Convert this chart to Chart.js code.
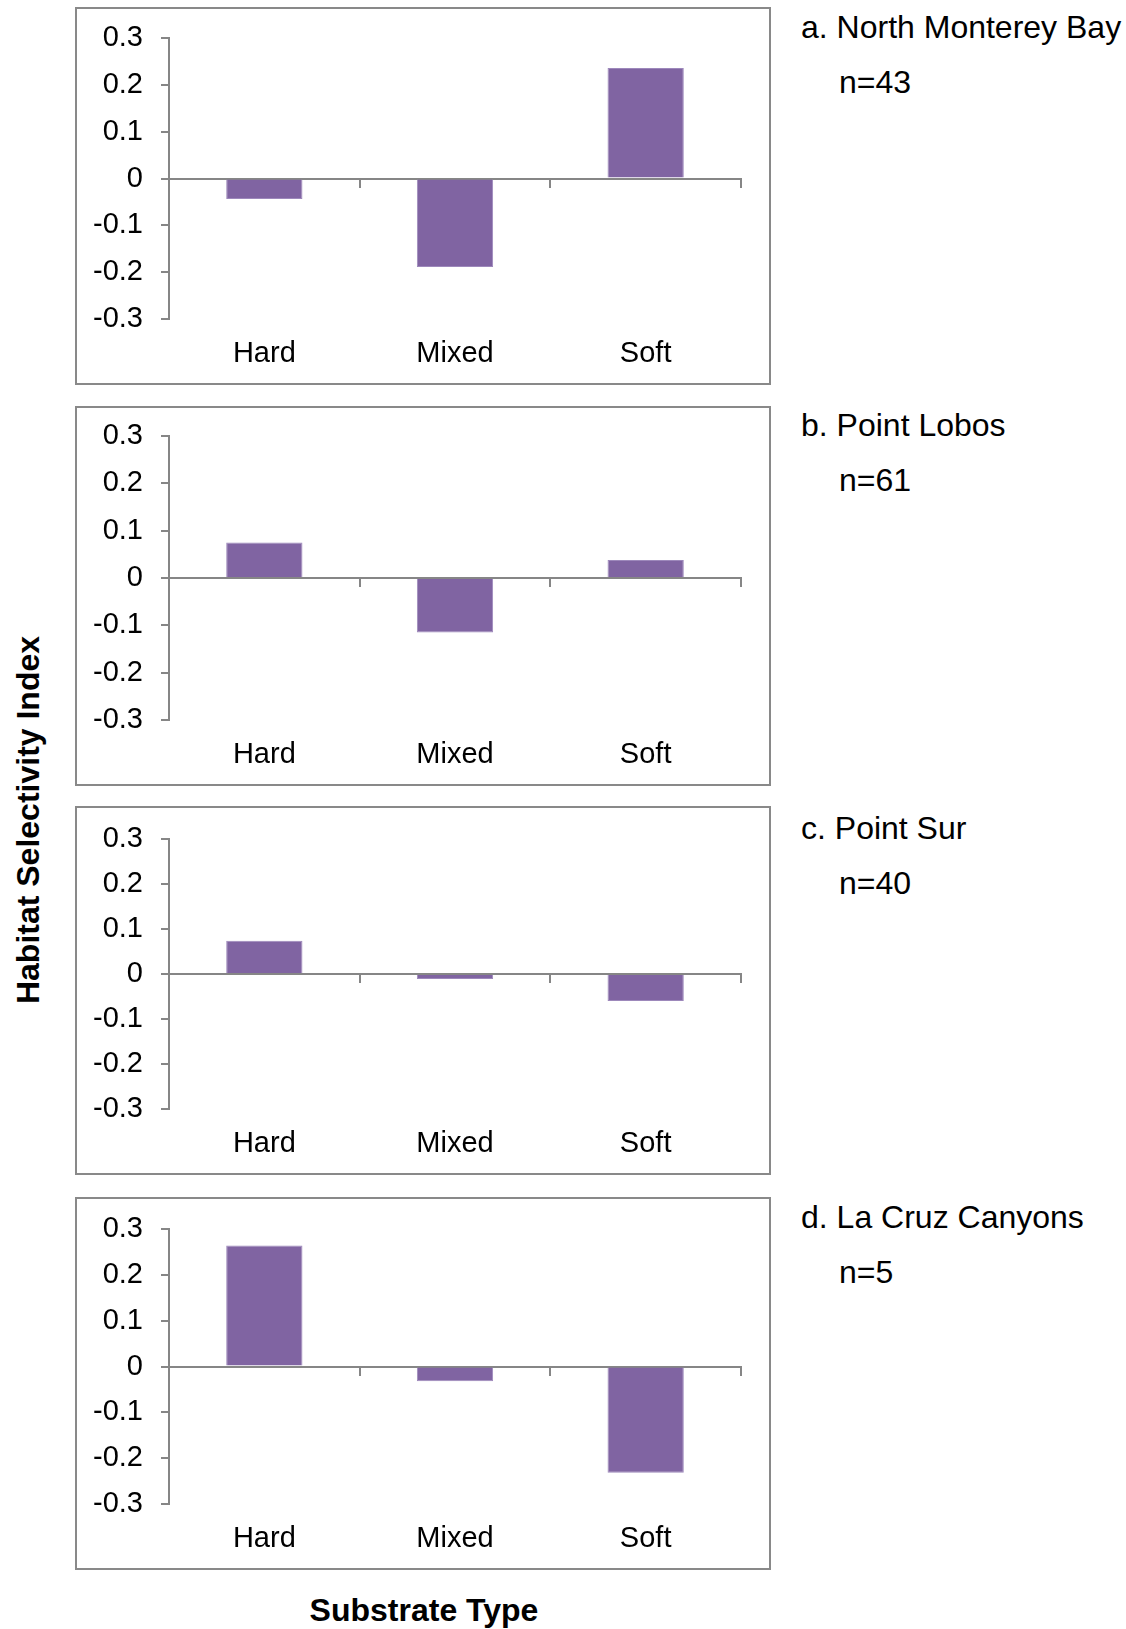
<!DOCTYPE html>
<html>
<head>
<meta charset="utf-8">
<script src="https://cdn.jsdelivr.net/npm/chart.js@4.4.1/dist/chart.umd.min.js"></script>
<style>
    body {
        margin: 0;
        background: #ffffff;
        font-family: "Liberation Sans", Arial, sans-serif;
        color: #000000;
    }
    #page {
        position: relative;
        width: 1126px;
        height: 1629px;
        overflow: hidden;
    }
    .panel {
        position: absolute;
        left: 75px;
        width: 696px;
        border: 2px solid #898989;
        box-sizing: border-box;
    }
    .panel canvas {
        display: block;
    }
    .site, .count {
        position: absolute;
        font-size: 32px;
        line-height: 32px;
        height: 32px;
        white-space: nowrap;
    }
    .axisTitle {
        position: absolute;
        font-size: 32px;
        font-weight: bold;
        white-space: nowrap;
        transform: translate(-50%, -50%);
    }
</style>
</head>
<body>
<div id="page"></div>

<script>
"use strict";

// Chart values
const categories = ["Hard", "Mixed", "Soft"];
const northMontereyBay = [-0.044, -0.189, 0.236];
const pointLobos = [0.075, -0.115, 0.038];
const pointSur = [0.074, -0.011, -0.060];
const laCruzCanyons = [0.264, -0.032, -0.232];

const siteNames = ["a. North Monterey Bay", "b. Point Lobos", "c. Point Sur", "d. La Cruz Canyons"];
const sampleSizes = [43, 61, 40, 5];

// y axis range and step (tick labels -0.3 ... 0.3)
const yMin = -0.3;
const yMax = 0.3;
const yStep = 0.1;

// Layout of the four boxes
const panelTops = [7, 406, 806, 1197];
const panelHeights = [378, 380, 369, 373];
const plotTopPad = [29, 28, 31, 30];
const siteLabelY = [27, 425, 828, 1217];

const barColor = "#8064a2";
const barEdge = "#9d88bb";
const axisColor = "#868686";

Chart.defaults.font.family = "'Liberation Sans', Arial, sans-serif";
Chart.defaults.color = "#000000";

let page = document.getElementById("page");
let allValues = [northMontereyBay, pointLobos, pointSur, laCruzCanyons];

for (let i = 0; i < allValues.length; i++) {

    let box = document.createElement("div");
    box.className = "panel";
    box.style.top = panelTops[i] + "px";
    box.style.height = panelHeights[i] + "px";

    let canvas = document.createElement("canvas");
    canvas.width = 692;
    canvas.height = panelHeights[i] - 4;
    box.appendChild(canvas);
    page.appendChild(box);

    new Chart(canvas, {
        "type": "bar",
        "data": {
            "labels": categories,
            "datasets": [{
                "data": allValues[i],
                "xAxisID": "x",
                "yAxisID": "y",
                "backgroundColor": barColor,
                "borderColor": barEdge,
                "borderWidth": 1,
                "barPercentage": 0.4,
                "categoryPercentage": 1.0
            }]
        },
        "options": {
            responsive: false,
            animation: false,
            events: [],
            layout: {
                padding: { top: plotTopPad[i], right: 28, left: 0, bottom: 0 }
            },
            plugins: {
                legend: { display: false },
                tooltip: { enabled: false }
            },
            scales: {
                // axis line through zero, with tick marks between categories
                x: {
                    type: "category",
                    position: { y: 0 },
                    offset: true,
                    grid: {
                        offset: true,
                        drawOnChartArea: false,
                        drawTicks: true,
                        tickLength: 8,
                        color: axisColor,
                        lineWidth: 2
                    },
                    border: { display: true, color: axisColor, width: 2 },
                    ticks: { display: false }
                },
                // category names along the bottom of the box
                x2: {
                    type: "category",
                    labels: categories,
                    position: "bottom",
                    offset: true,
                    grid: { display: false, drawTicks: false },
                    border: { display: false },
                    ticks: {
                        font: { size: 29 },
                        color: "#000000",
                        padding: 18,
                        maxRotation: 0
                    },
                    afterFit: function (scale) {
                        scale.height = 64;
                    }
                },
                y: {
                    min: yMin,
                    max: yMax,
                    grid: {
                        drawOnChartArea: false,
                        drawTicks: true,
                        tickLength: 8,
                        color: axisColor,
                        lineWidth: 2
                    },
                    border: { display: true, color: axisColor, width: 2 },
                    ticks: {
                        stepSize: yStep,
                        font: { size: 29 },
                        color: "#000000",
                        padding: 18,
                        callback: function (v) {
                            let r = Math.round(v * 10) / 10;
                            return r === 0 ? "0" : String(r);
                        }
                    },
                    afterFit: function (scale) {
                        // fixed width, and let layout padding decide the top
                        scale.width = 92;
                        scale.paddingTop = 0;
                        scale.paddingBottom = 0;
                    }
                }
            }
        }
    });

    let site = document.createElement("div");
    site.className = "site";
    site.style.left = "801px";
    site.style.top = (siteLabelY[i] - 16) + "px";
    site.textContent = siteNames[i];
    page.appendChild(site);

    let count = document.createElement("div");
    count.className = "count";
    count.style.left = "839px";
    count.style.top = (siteLabelY[i] + 55 - 16) + "px";
    count.textContent = "n=" + sampleSizes[i];
    page.appendChild(count);
}

// Shared axis titles
let yTitle = document.createElement("div");
yTitle.className = "axisTitle";
yTitle.style.left = "28px";
yTitle.style.top = "820px";
yTitle.style.transform = "translate(-50%, -50%) rotate(-90deg)";
yTitle.textContent = "Habitat Selectivity Index";
page.appendChild(yTitle);

let xTitle = document.createElement("div");
xTitle.className = "axisTitle";
xTitle.style.left = "424px";
xTitle.style.top = "1610px";
xTitle.textContent = "Substrate Type";
page.appendChild(xTitle);
</script>
</body>
</html>
